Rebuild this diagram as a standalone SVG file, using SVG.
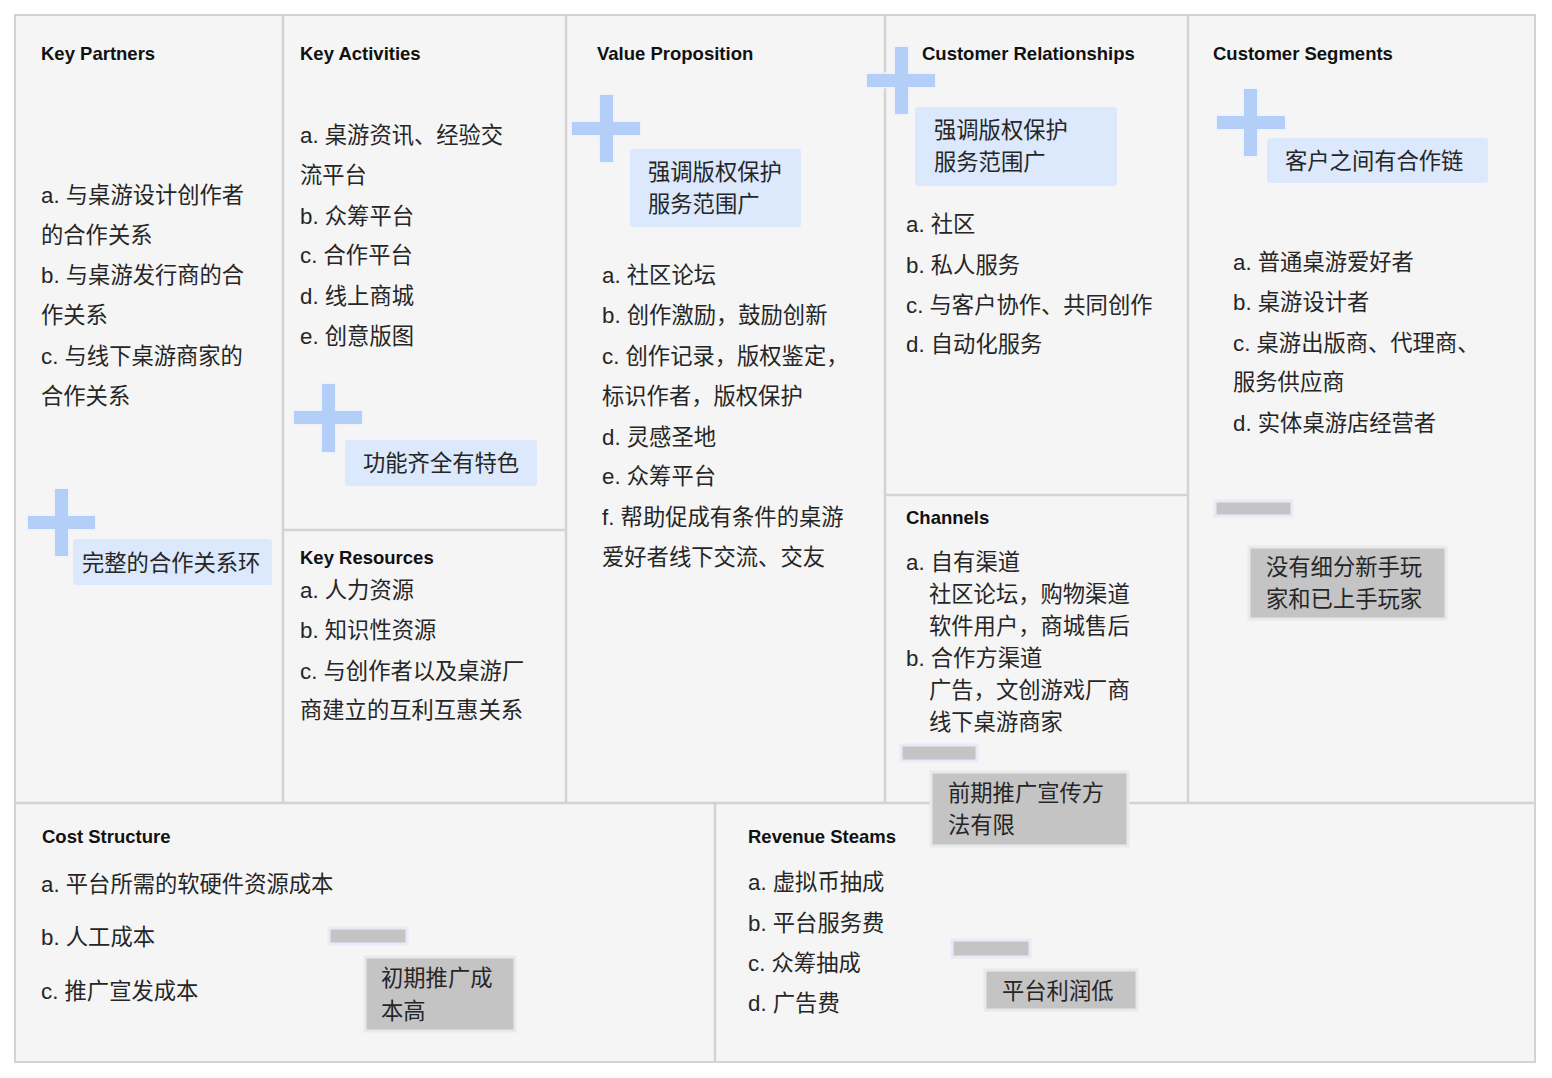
<svg xmlns="http://www.w3.org/2000/svg" width="1552" height="1078" viewBox="0 0 1552 1078">
<style>
.bg{fill:#f5f5f5;stroke:#d3d3d3;stroke-width:2}
.ln{stroke:#d3d3d3;stroke-width:2.5;fill:none}
.t{font-family:"Liberation Sans","Noto Sans CJK SC",sans-serif;font-weight:bold;font-size:18.5px;fill:#111}
.b{font-family:"Liberation Sans","Noto Sans CJK SC",sans-serif;font-size:22.3px;fill:#262626}
.plus{fill:#b3cff8;stroke:#edf2fc;stroke-width:3;paint-order:stroke}
.note{fill:#dce8fb}
.minus{fill:#c4c4c4;stroke:#ebe9f8;stroke-width:3}
.gbox{fill:#c4c4c4;stroke:#e9e9e9;stroke-width:3}
</style>
<rect x="0" y="0" width="1552" height="1078" fill="#ffffff"/>
<g id="frame">
<rect class="bg" x="15" y="15" width="1520" height="1047"/>
<path class="ln" d="M283 15V803M566 15V803M885 15V803M1188 15V803M15 803H1535M715 803V1062M283 530H566M885 495H1188"/>
</g>
<g id="key-partners">
<text class="t" x="41" y="60">Key Partners</text>
<text class="b" x="41" y="203">a. 与桌游设计创作者</text>
<text class="b" x="41" y="243">的合作关系</text>
<text class="b" x="41" y="283">b. 与桌游发行商的合</text>
<text class="b" x="41" y="323">作关系</text>
<text class="b" x="41" y="364">c. 与线下桌游商家的</text>
<text class="b" x="41" y="404">合作关系</text>
</g>
<g id="note-partners">
<path class="plus" d="M55 489h13v27h27v13h-27v27h-13v-27h-27v-13h27z"/>
<rect class="note" x="73" y="539" width="199" height="46" rx="3"/>
<text class="b" x="82" y="571">完整的合作关系环</text>
</g>
<g id="key-activities">
<text class="t" x="300" y="60">Key Activities</text>
<text class="b" x="300" y="143">a. 桌游资讯、经验交</text>
<text class="b" x="300" y="183">流平台</text>
<text class="b" x="300" y="224">b. 众筹平台</text>
<text class="b" x="300" y="263">c. 合作平台</text>
<text class="b" x="300" y="304">d. 线上商城</text>
<text class="b" x="300" y="344">e. 创意版图</text>
</g>
<g id="note-activities">
<path class="plus" d="M322 384h13v27h27v13h-27v28h-13v-28h-28v-13h28z"/>
<rect class="note" x="345" y="440" width="192" height="46" rx="3"/>
<text class="b" x="363" y="471">功能齐全有特色</text>
</g>
<g id="key-resources">
<text class="t" x="300" y="564">Key Resources</text>
<text class="b" x="300" y="598">a. 人力资源</text>
<text class="b" x="300" y="638">b. 知识性资源</text>
<text class="b" x="300" y="679">c. 与创作者以及桌游厂</text>
<text class="b" x="300" y="718">商建立的互利互惠关系</text>
</g>
<g id="value-proposition">
<text class="t" x="597" y="60">Value Proposition</text>
<text class="b" x="602" y="283">a. 社区论坛</text>
<text class="b" x="602" y="323">b. 创作激励，鼓励创新</text>
<text class="b" x="602" y="364">c. 创作记录，版权鉴定，</text>
<text class="b" x="602" y="404">标识作者，版权保护</text>
<text class="b" x="602" y="445">d. 灵感圣地</text>
<text class="b" x="602" y="484">e. 众筹平台</text>
<text class="b" x="602" y="525">f. 帮助促成有条件的桌游</text>
<text class="b" x="602" y="565">爱好者线下交流、交友</text>
</g>
<g id="note-value">
<path class="plus" d="M600 95h13v27h27v13h-27v27h-13v-27h-28v-13h28z"/>
<rect class="note" x="630" y="149" width="171" height="78" rx="3"/>
<text class="b" x="648" y="180">强调版权保护</text>
<text class="b" x="648" y="212">服务范围广</text>
</g>
<g id="customer-relationships">
<text class="t" x="922" y="60">Customer Relationships</text>
<text class="b" x="906" y="232">a. 社区</text>
<text class="b" x="906" y="273">b. 私人服务</text>
<text class="b" x="906" y="313">c. 与客户协作、共同创作</text>
<text class="b" x="906" y="352">d. 自动化服务</text>
</g>
<g id="note-relationships">
<path class="plus" d="M895 47h13v27h27v13h-27v27h-13v-27h-28v-13h28z"/>
<rect class="note" x="915" y="107" width="202" height="79" rx="3"/>
<text class="b" x="934" y="138">强调版权保护</text>
<text class="b" x="934" y="170">服务范围广</text>
</g>
<g id="channels">
<text class="t" x="906" y="524">Channels</text>
<text class="b" x="906" y="570">a. 自有渠道</text>
<text class="b" x="929" y="602">社区论坛，购物渠道</text>
<text class="b" x="929" y="634">软件用户，商城售后</text>
<text class="b" x="906" y="666">b. 合作方渠道</text>
<text class="b" x="929" y="698">广告，文创游戏厂商</text>
<text class="b" x="929" y="730">线下桌游商家</text>
</g>
<g id="customer-segments">
<text class="t" x="1213" y="60">Customer Segments</text>
<text class="b" x="1233" y="270">a. 普通桌游爱好者</text>
<text class="b" x="1233" y="310">b. 桌游设计者</text>
<text class="b" x="1233" y="351">c. 桌游出版商、代理商、</text>
<text class="b" x="1233" y="390">服务供应商</text>
<text class="b" x="1233" y="431">d. 实体桌游店经营者</text>
</g>
<g id="note-segments">
<path class="plus" d="M1244 89h13v27h28v13h-28v27h-13v-27h-27v-13h27z"/>
<rect class="note" x="1267" y="138" width="221" height="45" rx="3"/>
<text class="b" x="1285" y="169">客户之间有合作链</text>
</g>
<g id="cost-structure">
<text class="t" x="42" y="843">Cost Structure</text>
<text class="b" x="41" y="892">a. 平台所需的软硬件资源成本</text>
<text class="b" x="41" y="945">b. 人工成本</text>
<text class="b" x="41" y="999">c. 推广宣发成本</text>
</g>
<g id="revenue-streams">
<text class="t" x="748" y="843">Revenue Steams</text>
<text class="b" x="748" y="890">a. 虚拟币抽成</text>
<text class="b" x="748" y="931">b. 平台服务费</text>
<text class="b" x="748" y="971">c. 众筹抽成</text>
<text class="b" x="748" y="1011">d. 广告费</text>
</g>
<g id="issue-segments">
<rect class="minus" x="1215" y="501" width="77" height="15"/>
<rect class="gbox" x="1249" y="547" width="197" height="72"/>
<text class="b" x="1266" y="575">没有细分新手玩</text>
<text class="b" x="1266" y="607">家和已上手玩家</text>
</g>
<g id="issue-channels">
<rect class="minus" x="901" y="745" width="76" height="16"/>
<rect class="gbox" x="931" y="772" width="197" height="74"/>
<text class="b" x="948" y="801">前期推广宣传方</text>
<text class="b" x="948" y="833">法有限</text>
</g>
<g id="issue-cost">
<rect class="minus" x="329" y="928" width="78" height="16"/>
<rect class="gbox" x="365" y="957" width="150" height="74"/>
<text class="b" x="381" y="986">初期推广成</text>
<text class="b" x="381" y="1019">本高</text>
</g>
<g id="issue-revenue">
<rect class="minus" x="952" y="940" width="78" height="17"/>
<rect class="gbox" x="985" y="970" width="152" height="40"/>
<text class="b" x="1002" y="999">平台利润低</text>
</g>
<g id="connectors"></g>
</svg>
